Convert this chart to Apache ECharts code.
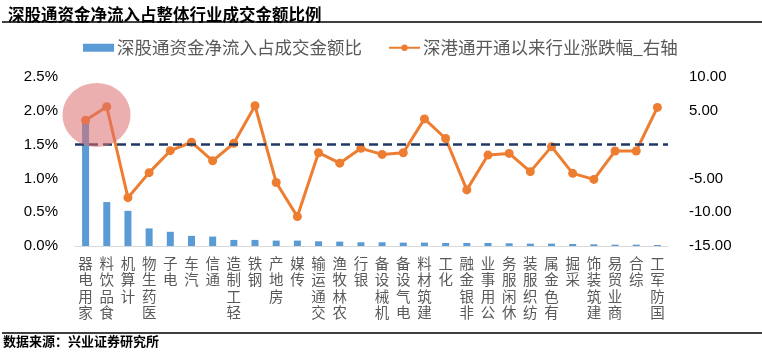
<!DOCTYPE html>
<html>
<head>
<meta charset="utf-8">
<script src="https://cdn.jsdelivr.net/npm/echarts@6/dist/echarts.min.js"></script>
<style>
  html, body { margin: 0; padding: 0; background: #fff; }
  #chart { width: 762px; height: 352px; }
</style>
</head>
<body>
<div id="chart"></div>
<script>
const industries = ['家用电器', '食品饮料', '计算机', '医药生物', '电子', '汽车', '通信', '轻工制造', '钢铁', '房地产',
  '传媒', '交通运输', '农林牧渔', '银行', '机械设备', '电气设备', '建筑材料', '化工', '非银金融', '公用事业',
  '休闲服务', '纺织服装', '有色金属', '采掘', '建筑装饰', '商业贸易', '综合', '国防军工'];

// 深股通资金净流入占成交金额比 (%)
const inflowShare = [1.84, 0.65, 0.52, 0.26, 0.21, 0.15, 0.14, 0.09, 0.09, 0.08,
  0.08, 0.07, 0.065, 0.055, 0.055, 0.05, 0.05, 0.045, 0.045, 0.045,
  0.04, 0.035, 0.035, 0.03, 0.025, 0.02, 0.02, 0.015];

// 深港通开通以来行业涨跌幅 (%), 右轴
const priceChange = [3.6, 5.6, -7.85, -4.15, -0.9, 0.35, -2.4, 0.2, 5.75, -5.6,
  -10.65, -1.2, -2.75, -0.55, -1.45, -1.2, 3.8, 0.9, -6.7, -1.55,
  -1.3, -4.0, -0.3, -4.25, -5.15, -0.95, -0.95, 5.5];

const leftTicks = { min: 0, max: 2.5, step: 0.5 };
const rightTicks = { min: -15, max: 10, step: 5 };

const chart = echarts.init(document.getElementById('chart'));
const cjk = '"Noto Sans CJK SC", sans-serif';
const num = '"Liberation Sans", Arial, sans-serif';

chart.setOption({
  animation: false,
  title: {
    text: '深股通资金净流入占整体行业成交金额比例',
    left: 3,
    top: 1,
    textStyle: { fontFamily: cjk, fontSize: 16.5, fontWeight: 'bold', color: '#000' },
  },
  legend: {
    left: 78,
    top: 34,
    itemWidth: 31,
    itemHeight: 8,
    itemGap: 26,
    textStyle: { fontFamily: cjk, fontSize: 17.5, color: '#595959', padding: [0, 0, 0, -2] },
    data: [
      { name: '深股通资金净流入占成交金额比', icon: 'rect' },
      { name: '深港通开通以来行业涨跌幅_右轴' },
    ],
  },
  grid: { left: 75, right: 94, top: 77, bottom: 106 },
  xAxis: {
    type: 'category',
    data: industries,
    axisLine: { lineStyle: { color: '#D9D9D9', width: 1 } },
    axisTick: { show: false },
    axisLabel: {
      interval: 0,
      margin: 9,
      verticalAlign: 'top',
      fontFamily: cjk,
      fontSize: 14.5,
      lineHeight: 16.5,
      color: '#595959',
      formatter: (v) => v.split('').reverse().join('\n'),
    },
  },
  yAxis: [
    {
      type: 'value',
      min: leftTicks.min,
      max: leftTicks.max,
      interval: leftTicks.step,
      axisLine: { show: false },
      axisTick: { show: false },
      splitLine: { show: false },
      axisLabel: {
        margin: 17,
        fontFamily: num,
        fontSize: 15,
        color: '#000',
        formatter: (v) => v.toFixed(1) + '%',
      },
    },
    {
      type: 'value',
      min: rightTicks.min,
      max: rightTicks.max,
      interval: rightTicks.step,
      axisLine: { show: false },
      axisTick: { show: false },
      splitLine: { show: false },
      axisLabel: {
        margin: 21,
        fontFamily: num,
        fontSize: 15,
        color: '#000',
        formatter: (v) => (v === 0 ? '' : v.toFixed(2)),
      },
    },
  ],
  series: [
    {
      name: '深股通资金净流入占成交金额比',
      type: 'bar',
      yAxisIndex: 0,
      barWidth: 7,
      itemStyle: { color: '#5B9BD5' },
      data: inflowShare,
    },
    {
      name: '深港通开通以来行业涨跌幅_右轴',
      type: 'line',
      yAxisIndex: 1,
      symbol: 'circle',
      symbolSize: 9,
      lineStyle: { color: '#ED7D31', width: 3 },
      itemStyle: { color: '#ED7D31' },
      data: priceChange,
      markLine: {
        silent: true,
        symbol: 'none',
        label: { show: false },
        lineStyle: { color: '#203864', width: 2.5, type: [9, 5] },
        data: [{ yAxis: 0 }],
      },
    },
  ],
  graphic: [
    { type: 'line', shape: { x1: 2, y1: 22, x2: 762, y2: 22 }, style: { stroke: '#000', lineWidth: 1.5 } },
    { type: 'line', shape: { x1: 2, y1: 333, x2: 762, y2: 333 }, style: { stroke: '#000', lineWidth: 1.5 } },
    {
      type: 'text', left: 3, top: 335,
      style: { text: '数据来源：兴业证券研究所', fontFamily: cjk, fontSize: 13, fontWeight: 'bold', fill: '#000' },
    },
    {
      type: 'ellipse', z: 100,
      shape: { cx: 96.5, cy: 115, rx: 34, ry: 32 },
      style: { fill: 'rgba(220,110,110,0.55)' },
    },
  ],
});
</script>
</body>
</html>
